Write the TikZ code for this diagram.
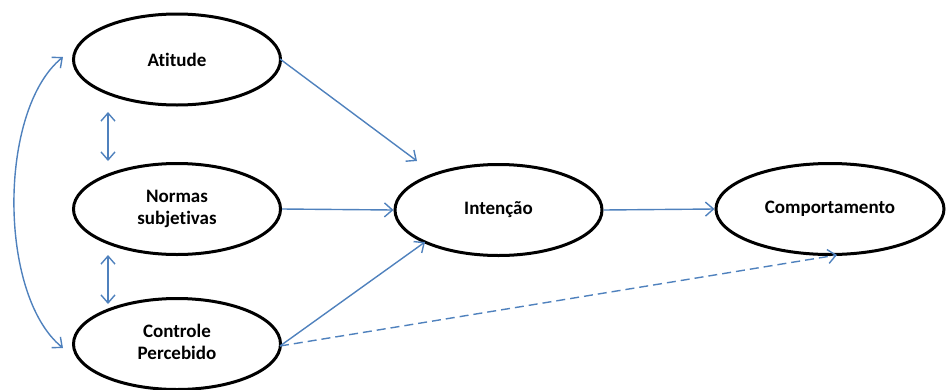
\documentclass[tikz,border=0pt]{standalone}
\usepackage{fontspec}
\setmainfont{Carlito}[Ligatures=CommonOff]
\usetikzlibrary{shapes.geometric,arrows.meta}
\definecolor{arrowblue}{RGB}{79,129,189}
\tikzset{
  oval/.style={ellipse, draw=black, line width=3pt, fill=white, inner sep=0pt,
    minimum width=207pt, minimum height=91pt, align=center,
    font=\fontsize{19}{22}\selectfont\bfseries},
  link/.style={draw=arrowblue, line width=1.4pt,
    -{Straight Barb[length=8pt,width=14pt,line width=1.4pt]}},
  twoway/.style={draw=arrowblue, line width=1.4pt,
    {Straight Barb[length=8pt,width=14pt,line width=1.4pt]}-{Straight Barb[length=8pt,width=14pt,line width=1.4pt]}},
  dashlink/.style={link, dash pattern=on 9pt off 5pt}
}
\begin{document}
\begin{tikzpicture}[x=1pt,y=-1pt]
\useasboundingbox (0,0) rectangle (947,389);
\node[oval] (ati) at (177,59.5) {Atitude};
\node[oval] (nor) at (177,209) {Normas\\subjetivas};
\node[oval] (con) at (177,344) {\raisebox{-3pt}{\begin{tabular}{@{}c@{}}Controle\\Percebido\end{tabular}}};
\node[oval] (int) at (498.5,210) {Intenção};
\node[oval, minimum width=228pt] (com) at (830,209) {Comportamento};
\coordinate (aEnd) at (417,161);
\coordinate (cEnd) at (425,242);
\coordinate (dEnd) at (837,255);
\coordinate (ls) at (280,59);
\coordinate (cs) at (280,346);
\coordinate (l1) at (63,57);
\coordinate (l2) at (63,348);
\coordinate (v1) at (108,112);
\coordinate (v2) at (108,161);
\coordinate (v3) at (108,255);
\coordinate (v4) at (108,304);
\draw[link] (ls) -- (aEnd);
\draw[link] (nor.east) -- (int.west);
\draw[link] (cs) -- (cEnd);
\draw[dashlink] (cs) -- (dEnd);
\draw[link] (int.east) -- (com.west);
\draw[twoway] (v1) -- (v2);
\draw[twoway] (v3) -- (v4);
\draw[twoway] (l1) .. controls (-2,110) and (-2,295) .. (l2);
\end{tikzpicture}
\end{document}
